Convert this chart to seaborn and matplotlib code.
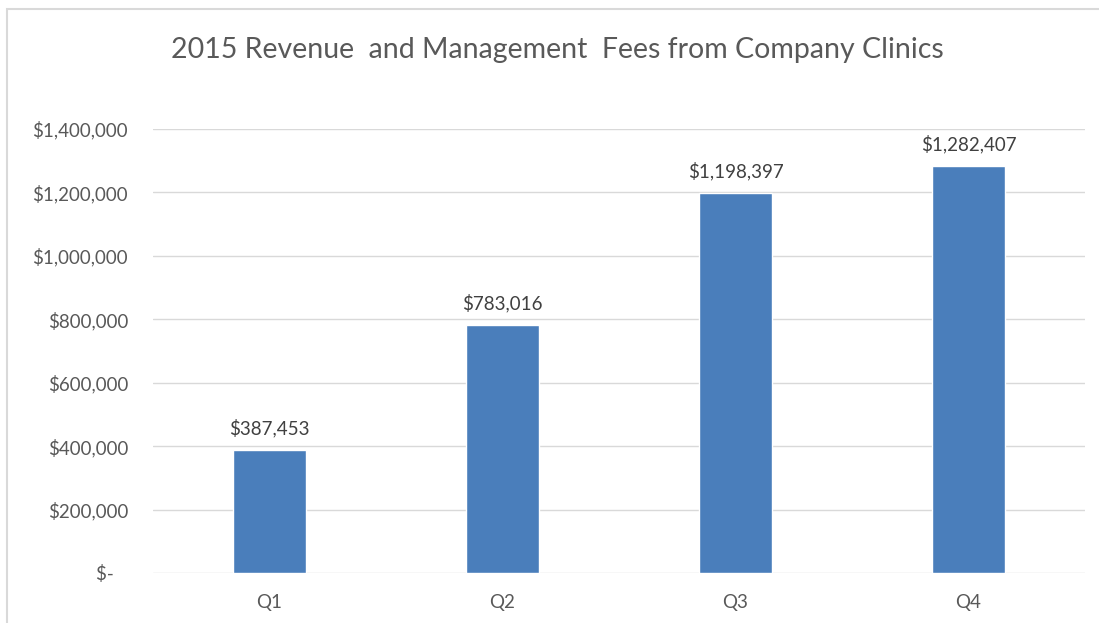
import matplotlib
matplotlib.use("Agg")
import matplotlib.pyplot as plt
import seaborn as sns
import pandas as pd
from matplotlib.patches import Rectangle
from matplotlib.ticker import FuncFormatter

# Data
quarters = ["Q1", "Q2", "Q3", "Q4"]
revenue = [387453, 783016, 1198397, 1282407]
title = "2015 Revenue  and Management  Fees from Company Clinics"

df = pd.DataFrame({"Quarter": quarters, "Revenue": revenue})

sns.set_style("white")
plt.rcParams["font.family"] = ["Lato", "DejaVu Sans"]

text_color = "#595959"
bar_color = "#4a7ebb"
grid_color = "#d9d9d9"

fig = plt.figure(figsize=(10.99, 6.23), dpi=100)
ax = fig.add_axes([153 / 1099, 1 - 573 / 623, (1085 - 153) / 1099, (573 - 129) / 623])

sns.barplot(data=df, x="Quarter", y="Revenue", color=bar_color, width=0.31,
            saturation=1, ax=ax, zorder=3)

ax.set_ylim(0, 1400000)
ax.set_xlim(-0.5, 3.5)
ax.set_yticks(range(0, 1400001, 200000))


def money(v, pos):
    if v == 0:
        return "$-   "
    return f"${v:,.0f}"


ax.yaxis.set_major_formatter(FuncFormatter(money))
ax.grid(axis="y", color=grid_color, linewidth=1, zorder=0)
for s in ax.spines.values():
    s.set_visible(False)
ax.tick_params(axis="both", length=0, labelsize=13.5, colors=text_color)
ax.tick_params(axis="y", pad=18)
ax.tick_params(axis="x", pad=15)
ax.set_xlabel("")
ax.set_ylabel("")

# value labels
for i, v in enumerate(revenue):
    ax.text(i, v + 40000, f"${v:,}", ha="center", va="bottom",
            fontsize=13.5, color="#404040")

fig.text(557 / 1099, 1 - 50 / 623, title, ha="center", va="center",
         fontsize=20.5, color=text_color)

# chart border
fig.patches.append(Rectangle((7 / 1099, -0.1), 1.2, 1 - 9 / 623 + 0.1,
                             transform=fig.transFigure, fill=False,
                             edgecolor="#d9d9d9", linewidth=1.5))

fig.savefig("out.png", dpi=100)
